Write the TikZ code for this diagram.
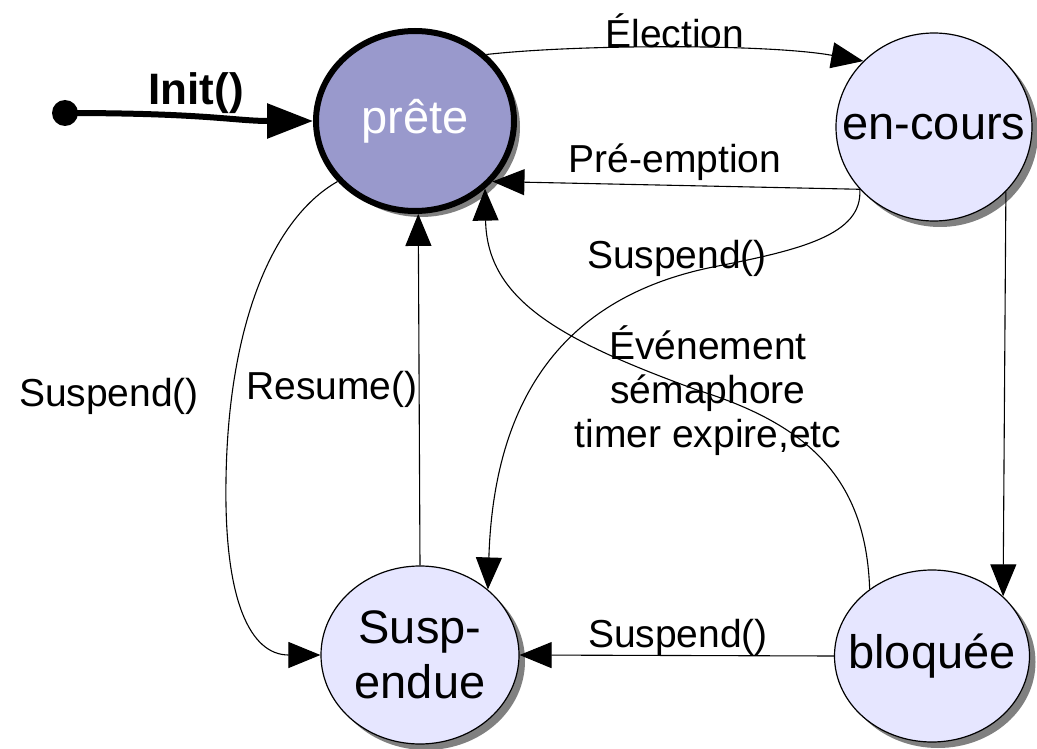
\documentclass[tikz,border=0pt]{standalone}
\usepackage{fontspec}
\setmainfont{Liberation Sans}
\usetikzlibrary{shapes.geometric,arrows.meta,shadows}
\definecolor{activefill}{RGB}{153,153,204}
\definecolor{statefill}{RGB}{230,230,255}
\definecolor{shadowgray}{RGB}{128,128,128}
\begin{document}
\begin{tikzpicture}[x=1pt,y=-1pt,
  state/.style={ellipse, draw=black, line width=1.2pt, fill=statefill, inner sep=0pt,
    drop shadow={shadow xshift=6pt, shadow yshift=-6pt, fill=shadowgray, opacity=1}},
  statetext/.style={font=\fontsize{47}{55}\selectfont, align=center, inner sep=0pt},
  lbl/.style={font=\fontsize{39}{44}\selectfont, align=center, inner sep=0pt},
  trans/.style={draw=black, line width=1.1pt, -{Triangle[length=32pt,width=26pt]}},
]
\useasboundingbox (0,0) rectangle (1037,749);

% states
\node[state, line width=6pt, fill=activefill, minimum width=198pt, minimum height=180pt] (prete) at (415,121) {};
\node[statetext, text=white] (prete-t) at (prete.center) {prête};
\node[state, minimum width=196pt, minimum height=188pt] (encours) at (934,127) {};
\node[statetext] (encours-t) at (encours.center) {en-cours};
\node[state, minimum width=198pt, minimum height=178pt] (susp) at (420,655) {};
\node[statetext] (susp-t) at (susp.center) {Susp-\\endue};
\node[state, minimum width=195pt, minimum height=172pt] (bloq) at (932,656) {};
\node[statetext] (bloq-t) at (bloq.center) {bloquée};

% initial transition
\node[circle, fill=black, inner sep=0pt, minimum size=26pt] (start) at (65,113) {};
\draw[line width=6pt, -{Triangle[length=46pt,width=34pt]}]
  (start.center) .. controls (205,113) and (235,121) .. (prete.west);
\node[font=\bfseries\fontsize{44}{44}\selectfont, inner sep=0pt] (init-l) at (196,93) {Init()};

% transitions
\draw[trans] (prete.43) .. controls (580,44) and (770,44) .. (encours.137);
\node[lbl] (elect-l) at (675,31) {Élection};

\draw[trans] (encours.220) -- (prete.322);
\node[lbl] (preempt-l) at (675,162) {Pré-emption};

\draw[trans] (encours.220) .. controls (863,235) and (800,250) .. (713,267)
  .. controls (600,290) and (495,360) .. (susp.44);
\node[lbl] (susp1-l) at (677,258) {Suspend()};

\draw[trans] (bloq.133) .. controls (866,480) and (810,425) .. (697,390)
  .. controls (560,340) and (487,300) .. (prete.316);
\node[lbl] (event-l) at (708,391) {Événement\\sémaphore\\timer expire,etc};

\draw[trans] (susp.north) -- (prete.272);
\node[lbl] (resume-l) at (332,389) {Resume()};

\draw[trans] (prete.218) .. controls (270,220) and (228,330) .. (226,480)
  .. controls (224,600) and (250,655) .. (susp.west);
\node[lbl] (susp2-l) at (109,396) {Suspend()};

\draw[trans] (encours.318) -- (bloq.40);

\draw[trans] (bloq.west) -- (susp.east);
\node[lbl] (susp3-l) at (678,637) {Suspend()};
\end{tikzpicture}
\end{document}
